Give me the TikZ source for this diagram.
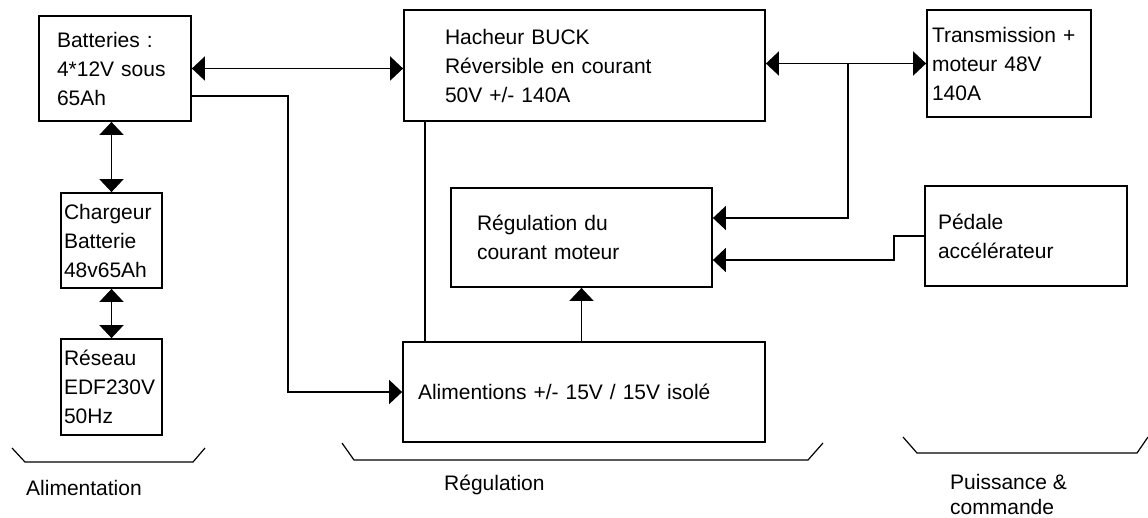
\documentclass[tikz,border=0pt]{standalone}
\usepackage{fontspec}
\setmainfont{Liberation Sans}
\usetikzlibrary{arrows.meta}
\tikzset{
  box/.style={draw, line width=1.8pt, inner ysep=0pt, align=left,
    font=\fontsize{21}{29}\selectfont},
  lbl/.style={inner sep=0pt, align=left, anchor=west,
    font=\fontsize{21}{25}\selectfont},
  conn/.style={line width=1.8pt},
  arr/.style={conn, -{Triangle[length=13pt,width=24pt]}},
  both/.style={conn, {Triangle[length=13pt,width=24pt]}-{Triangle[length=13pt,width=24pt]}},
  brace/.style={line width=1.2pt}
}
\begin{document}
\begin{tikzpicture}[x=1pt, y=-1pt]
\useasboundingbox[fill=white] (0,0) rectangle (1148,517);
% boxes
\node[box, minimum width=152pt, minimum height=105pt, inner xsep=18pt, text width=116pt] (bat) at (115,68.5)
  {Batteries :\\4*12V sous\\65Ah};
\node[box, minimum width=361pt, minimum height=111pt, inner xsep=41pt, text width=279pt] (hach) at (584.5,65.5)
  {Hacheur BUCK\\Réversible en courant\\50V +/- 140A};
\node[box, minimum width=164pt, minimum height=107pt, inner xsep=5pt, text width=154pt] (trans) at (1009,63.5)
  {Transmission +\\moteur 48V\\140A};
\node[box, minimum width=101pt, minimum height=95pt, inner xsep=3pt, text width=95pt] (charg) at (111.5,240.5)
  {Chargeur\\Batterie\\48v65Ah};
\node[box, minimum width=101pt, minimum height=96pt, inner xsep=3pt, text width=95pt] (reseau) at (111.5,387)
  {Réseau\\EDF230V\\50Hz};
\node[box, minimum width=261pt, minimum height=99pt, inner xsep=26pt, text width=209pt] (reg) at (581.5,237.5)
  {Régulation du\\courant moteur};
\node[box, minimum width=202pt, minimum height=100pt, inner xsep=13pt, text width=176pt] (ped) at (1026,236)
  {Pédale\\accélérateur};
\node[box, minimum width=362pt, minimum height=100pt, inner xsep=15pt, text width=332pt] (alim) at (584,392)
  {Alimentions +/- 15V / 15V isolé\\[10pt]};
% connectors
\draw[both] (bat.east) -- (bat.east -| hach.west);
\draw[arr] ([yshift=-27.5pt]bat.east) -- ++(96,0) |- (alim.west);
\draw[both] (hach.east |- trans.west) -- (trans.west);
\coordinate (j) at (848,63.5);
\draw[arr] (j) |- ([yshift=19.5pt]reg.east);
\draw[arr] (ped.west) -- ++(-30,0) |- ([yshift=-22.5pt]reg.east);
\coordinate (hl) at ([xshift=22pt]hach.south west);
\draw[conn] (hl) -- (hl |- alim.north);
\draw[arr] (alim.north -| reg.south) -- (reg.south);
\draw[both] (bat.south -| charg.north) -- (charg.north);
\draw[both] (charg.south) -- (reseau.north);
% braces
\draw[brace] (12,448) -- (25,462) -- (193,462) -- (205,448);
\draw[brace] (342,443) -- (354,460) -- (808,460) -- (823,443);
\draw[brace] (903,437) -- (917,453) -- (1137,453) -- (1148,437);
% group labels
\node[lbl] (lalim) at (26,488) {Alimentation};
\node[lbl] (lreg) at (444,485) {Régulation};
\node[lbl] (lpuis) at (950,494) {Puissance \&\\commande};
\end{tikzpicture}
\end{document}
